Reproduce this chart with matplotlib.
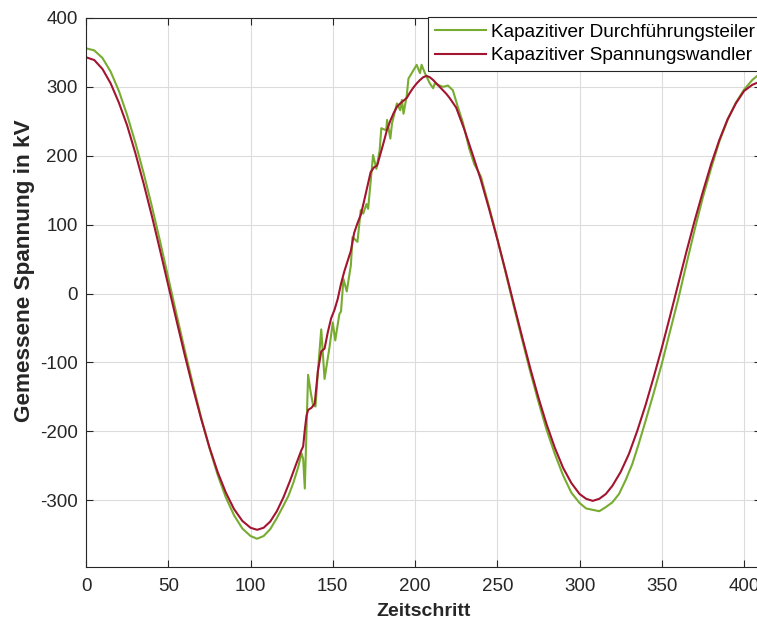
"""Recreate: Kapazitiver Durchführungsteiler vs. Spannungswandler."""

import matplotlib

matplotlib.use("Agg")
import matplotlib.pyplot as plt

# Kapazitiver Durchführungsteiler (green)
x_green = [0, 5, 10, 15, 20, 25, 30, 35, 40, 45, 50, 55, 60, 65, 70, 75, 80, 85, 90, 95, 100,
           104, 108, 112, 116, 120, 123, 126, 129, 131, 132, 133, 134, 135, 136.5, 138, 139.5,
           141, 143, 145, 148, 150, 151.5, 154, 155, 156.5, 158.5, 161, 162, 165, 167, 168.5,
           170.5, 171.5, 174.5, 176.5, 178.5, 179.5, 182.5, 183, 185, 186, 189, 191, 192, 193,
           195, 196, 199, 201, 203, 204, 206, 209, 211, 212, 215, 217, 220, 223, 226, 229, 233,
           236, 240, 245, 250, 255, 260, 265, 270, 275, 280, 285, 290, 295, 300, 304, 308, 312,
           316, 320, 324, 328, 332, 336, 340, 345, 350, 355, 360, 365, 370, 375, 380, 385, 390,
           395, 400, 405, 409]
y_green = [356, 353, 342, 322, 294, 259, 219, 175, 127, 76, 23, -30, -82, -132, -180, -224, -263,
           -296, -322, -341, -352,
           -356, -352, -342, -326, -308, -294, -275, -252, -232, -240, -283, -200, -118, -142,
           -162, -164,
           -112, -52, -124, -78, -42, -68, -30, -26, 21, 3, 41, 82, 75, 121, 116,
           130, 123, 201, 181, 208, 240, 237, 252, 225, 247, 276, 266, 281, 261,
           288, 312, 324, 332, 320, 332, 320, 305, 298, 305, 302, 300, 302, 295, 271, 249, 210,
           188, 170, 126, 80, 31, -18, -66, -113, -157, -198, -233, -264, -289, -304, -312, -314,
           -316,
           -310, -303, -291, -271, -248, -218, -186, -145, -102, -55, -8, 43, 93, 140, 182, 221,
           252,
           277, 296, 310, 318]

# Kapazitiver Spannungswandler (red)
x_red = [0, 5, 10, 15, 20, 25, 30, 35, 40, 45, 50, 55, 60, 65, 70, 75, 80, 85, 90, 95, 100,
         104, 108, 112, 116, 120, 124, 128, 131, 132, 133, 134, 135, 137, 139, 141, 143, 145,
         147, 149, 151, 153, 155, 157, 159, 161, 163, 165, 167, 169, 171, 173, 175, 177, 179,
         181, 183, 185, 187, 189, 191, 193, 195, 197, 199, 201, 203, 205, 207, 209, 211, 213,
         215, 217, 219, 221, 223, 225, 230, 235, 240, 245, 250, 255, 260, 265, 270, 275, 280,
         285, 290, 295, 300, 304, 308, 312, 316, 320, 325, 330, 335, 340, 345, 350, 355, 360,
         365, 370, 375, 380, 385, 390, 395, 400, 405, 409]
y_red = [343, 339, 326, 305, 277, 244, 204, 160, 113, 63, 12, -39, -89, -137, -182, -223, -259,
         -289, -313, -330, -340,
         -343, -340, -331, -316, -296, -272, -246, -227, -222, -198, -178, -169, -166, -160,
         -112, -84, -80,
         -56, -36, -24, -8, 14, 32, 47, 62, 88, 102, 114, 134, 155, 176, 183, 186, 203,
         220, 238, 251, 262, 271, 276, 280, 284, 292, 299, 305, 310, 314, 316, 314, 310, 305,
         300, 295, 290, 284, 277, 270, 238, 202, 165, 123, 79, 33, -15, -62, -108, -151, -190,
         -224, -253, -275, -291, -298, -301, -298, -291, -279, -259, -233, -200, -163, -122,
         -79, -33, 14,
         61, 106, 148, 188, 223, 253, 276, 294, 303, 307]

x_ticks = [0, 50, 100, 150, 200, 250, 300, 350, 400]
y_ticks = [-300, -200, -100, 0, 100, 200, 300, 400]

plt.rcParams["font.family"] = ["Liberation Sans", "DejaVu Sans"]
plt.rcParams["axes.unicode_minus"] = False

fig = plt.figure(figsize=(7.57, 6.21), dpi=100)
ax = fig.add_axes([86 / 757, 1 - 567 / 621, (760.5 - 86) / 757, (567 - 18) / 621])

ax.plot(x_green, y_green, color="#77AC30", linewidth=1.5, label="Kapazitiver Durchführungsteiler")
ax.plot(x_red, y_red, color="#A2142F", linewidth=1.5, label="Kapazitiver Spannungswandler")

ax.set_xlim(0, 410)
ax.set_ylim(-397, 400)
ax.set_xticks(x_ticks)
ax.set_yticks(y_ticks)
ax.grid(True, color="#dcdcdc", linewidth=0.8)
ax.set_axisbelow(True)
ax.tick_params(direction="in", top=True, right=True, length=5, width=0.8,
               colors="#262626", labelsize=13.5, pad=6)
ax.tick_params(axis="x", pad=8)
for s in ax.spines.values():
    s.set_color("#262626")
    s.set_linewidth(0.8)

ax.set_xlabel("Zeitschritt", fontsize=14, fontweight="bold", color="#262626", labelpad=6)
ax.set_ylabel("Gemessene Spannung in kV", fontsize=16.2, fontweight="bold", color="#262626")
ax.yaxis.set_label_coords(-0.0755, 0.54)

leg = ax.legend(loc="upper left", bbox_to_anchor=(428 / 757, 1 - 17 / 621),
                bbox_transform=fig.transFigure, borderaxespad=0, fancybox=False,
                framealpha=1, edgecolor="#262626", fontsize=13.7, handlelength=2.7,
                handletextpad=0.27, borderpad=0.35, labelspacing=0.32)
leg.get_frame().set_linewidth(0.8)

fig.savefig("out.png")
plt.close(fig)
